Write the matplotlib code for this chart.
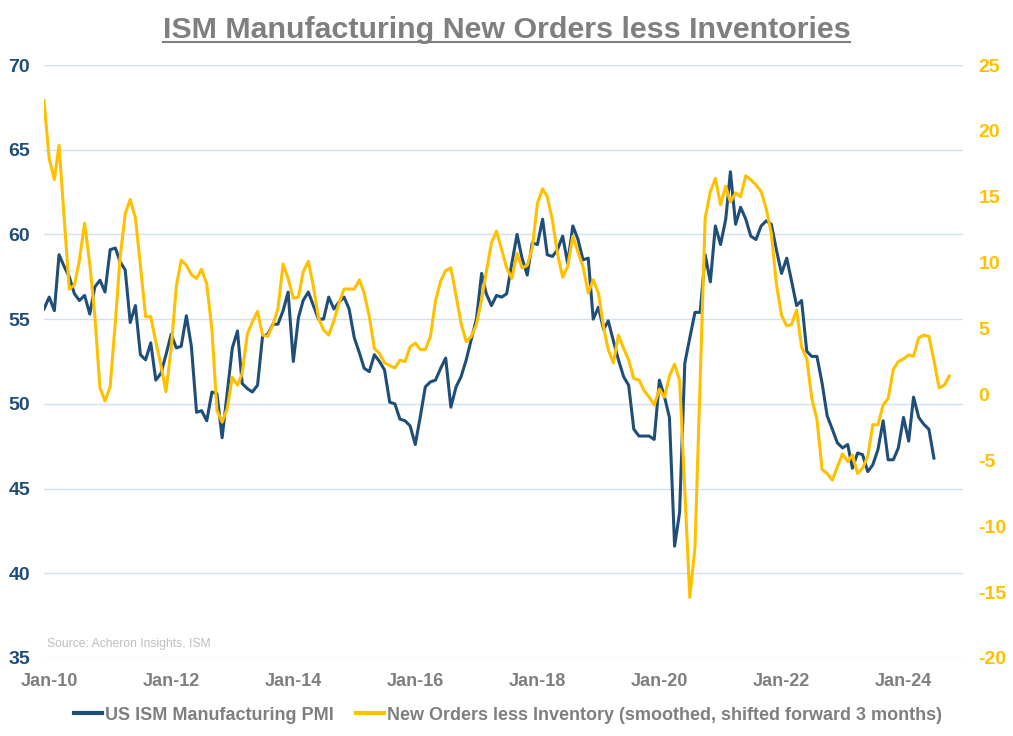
import datetime as dt
import matplotlib
matplotlib.use("Agg")
import matplotlib.pyplot as plt
from matplotlib.lines import Line2D
import pandas as pd

# ---------------- data ----------------
# US ISM Manufacturing PMI, monthly from Dec-2009
pmi = [55.6, 56.3, 55.5, 58.8, 58.1, 57.5, 56.5, 56.1, 56.4, 55.3, 56.9, 57.3,
       56.6, 59.1, 59.2, 58.4, 57.9, 54.8, 55.8, 52.9, 52.6, 53.6, 51.4, 51.8,
       52.9, 54.1, 53.3, 53.4, 55.2, 53.4, 49.5, 49.6, 49.0, 50.7, 50.6, 48.0,
       50.6, 53.3, 54.3, 51.2, 50.9, 50.7, 51.1, 54.0, 54.1, 54.7, 54.7, 55.5,
       56.6, 52.5, 55.1, 56.1, 56.6, 55.8, 55.0, 55.0, 56.3, 55.6, 56.0, 56.3,
       55.6, 53.9, 53.0, 52.1, 51.9, 52.9, 52.5, 52.0, 50.1, 50.0, 49.1, 49.0,
       48.7, 47.6, 49.3, 51.0, 51.3, 51.4, 52.1, 52.7, 49.8, 51.0, 51.6, 52.6,
       53.8, 55.0, 57.7, 56.5, 55.8, 56.4, 56.3, 56.5, 58.3, 60.0, 58.6, 57.6,
       59.5, 59.4, 60.9, 58.8, 58.7, 59.1, 59.9, 58.3, 60.5, 59.7, 58.5, 58.6,
       55.0, 55.7, 54.4, 54.9, 53.7, 52.6, 51.6, 51.1, 48.5, 48.1, 48.1, 48.1,
       47.9, 51.4, 50.4, 49.2, 41.6, 43.6, 52.4, 53.9, 55.4, 55.4, 58.8, 57.2,
       60.5, 59.4, 60.9, 63.7, 60.6, 61.6, 60.9, 59.9, 59.7, 60.5, 60.8, 60.6,
       59.1, 57.7, 58.6, 57.3, 55.8, 56.1, 53.1, 52.8, 52.8, 51.2, 49.3, 48.5,
       47.7, 47.4, 47.6, 46.2, 47.1, 47.0, 46.0, 46.4, 47.3, 49.0, 46.7, 46.7,
       47.4, 49.2, 47.8, 50.4, 49.2, 48.8, 48.5, 46.8]

# New Orders less Inventories (smoothed, shifted forward 3 months), from Dec-2009
noi = [22.3, 17.9, 16.3, 18.9, 13.4, 8.0, 8.3, 10.2, 13.0, 9.9, 6.0, 0.5,
       -0.5, 0.6, 5.5, 10.3, 13.7, 14.8, 13.4, 9.8, 5.9, 5.9, 4.0, 2.2,
       0.2, 3.5, 8.2, 10.2, 9.8, 9.1, 8.8, 9.5, 8.4, 4.9, -1.2, -2.1,
       -1.1, 1.3, 0.7, 1.6, 4.6, 5.5, 6.3, 4.5, 4.4, 5.3, 6.5, 9.9,
       8.8, 7.3, 7.4, 9.3, 10.1, 8.2, 5.8, 4.9, 4.5, 5.6, 6.9, 8.0,
       8.0, 8.0, 8.7, 7.7, 5.9, 3.5, 3.1, 2.4, 2.2, 2.0, 2.6, 2.5,
       3.6, 3.9, 3.4, 3.4, 4.4, 7.1, 8.6, 9.4, 9.6, 7.5, 5.4, 4.0,
       4.4, 5.3, 7.2, 9.3, 11.5, 12.4, 11.0, 9.6, 8.8, 10.7, 9.6, 9.8,
       11.1, 14.5, 15.6, 15.0, 13.2, 10.7, 8.9, 9.7, 12.0, 10.8, 9.7, 7.7,
       8.7, 7.7, 5.1, 3.4, 2.4, 4.5, 3.5, 2.6, 1.2, 1.1, 0.3, -0.2,
       -0.8, 0.4, -0.2, 1.4, 2.3, 1.1, -7.2, -15.4, -11.6, 1.0, 13.4, 15.4,
       16.4, 14.4, 15.8, 14.6, 15.3, 15.0, 16.6, 16.3, 15.9, 15.4, 14.1, 12.2,
       8.4, 6.0, 5.2, 5.3, 6.4, 3.6, 2.7, -0.3, -1.9, -5.7, -6.0, -6.5,
       -5.5, -4.5, -5.1, -4.6, -6.0, -5.6, -4.7, -2.3, -2.3, -0.8, -0.3, 1.9,
       2.5, 2.7, 3.0, 2.9, 4.3, 4.5, 4.4, 2.6, 0.5, 0.7, 1.4]

start_month = "2009-12-01"
tick_years = [2010, 2012, 2014, 2016, 2018, 2020, 2022, 2024]
tick_labels = ["Jan-10", "Jan-12", "Jan-14", "Jan-16", "Jan-18", "Jan-20", "Jan-22", "Jan-24"]
left_ticks = [35, 40, 45, 50, 55, 60, 65, 70]
right_ticks = [-20, -15, -10, -5, 0, 5, 10, 15, 20, 25]

title_text = "ISM Manufacturing New Orders less Inventories"
pmi_label = "US ISM Manufacturing PMI"
noi_label = "New Orders less Inventory (smoothed, shifted forward 3 months)"
source_text = "Source: Acheron Insights, ISM"

# ---------------- styling ----------------
BLUE = "#1F4E79"
GOLD = "#FFC000"
GREY = "#7F7F7F"
GRID = "#D3E0EE"
FONT = "Liberation Sans"
plt.rcParams["font.family"] = [FONT, "DejaVu Sans"]

W, H = 1013, 736
fig = plt.figure(figsize=(W / 100, H / 100), dpi=100)
fig.patch.set_facecolor("white")

L, R, T, B = 44, 963, 65, 658
ax = fig.add_axes([L / W, 1 - B / H, (R - L) / W, (B - T) / H])
ax2 = ax.twinx()

pmi_dates = pd.date_range(start_month, periods=len(pmi), freq="MS").to_pydatetime()
noi_dates = pd.date_range(start_month, periods=len(noi), freq="MS").to_pydatetime()

ax.plot(pmi_dates, pmi, color=BLUE, lw=2.2, solid_joinstyle="round", zorder=3)
ax2.plot(noi_dates, noi, color=GOLD, lw=2.2, solid_joinstyle="round", zorder=3)

ax.set_xlim(dt.datetime(2009, 12, 1), dt.datetime(2024, 12, 22))
ax.set_ylim(35, 70)
ax2.set_ylim(-20, 25)

ax.set_yticks(left_ticks)
ax.set_yticklabels([str(v) for v in left_ticks])
ax2.set_yticks(right_ticks)
ax2.set_yticklabels([str(v) for v in right_ticks])
ax.set_xticks([dt.datetime(y, 1, 1) for y in tick_years])
ax.set_xticklabels(tick_labels)

for a in (ax, ax2):
    for s in a.spines.values():
        s.set_visible(False)

ax.tick_params(axis="y", length=0, pad=10, labelcolor=BLUE, labelsize=14)
ax2.tick_params(axis="y", length=0, pad=11, labelcolor=GOLD, labelsize=14)
ax.tick_params(axis="x", length=0, pad=11, labelcolor=GREY, labelsize=13)
for lab in ax.get_yticklabels() + ax2.get_yticklabels() + ax.get_xticklabels():
    lab.set_fontweight("bold")

ax.yaxis.grid(True, color=GRID, lw=1.0)
ax.set_axisbelow(True)
ax.xaxis.grid(False)

ax.text(3 / (R - L), 11 / (B - T), source_text, transform=ax.transAxes,
        fontsize=8.7, color="#BFBFBF", ha="left", va="baseline")

# Title (bold, grey, underlined)
title = fig.text(0.5, 1 - 38 / H, title_text, ha="center", va="baseline",
                 fontsize=18, fontweight="bold", color=GREY)
fig.canvas.draw()
r = fig.canvas.get_renderer()
bb = title.get_window_extent(r)
title.set_fontsize(18 * 689 / bb.width)
fig.canvas.draw()
bb = title.get_window_extent(r)
uy = 1 - 42 / H
fig.add_artist(Line2D([bb.x0 / W, bb.x1 / W], [uy, uy], color=GREY, lw=1.5,
                      transform=fig.transFigure))

# Legend
handles = [Line2D([], [], color=BLUE, lw=3), Line2D([], [], color=GOLD, lw=3)]
leg = fig.legend(handles, [pmi_label, noi_label], loc="center",
                 bbox_to_anchor=(508 / W, 1 - 715 / H), ncol=2, frameon=False,
                 handlelength=1.55, handletextpad=0.2, columnspacing=1.2,
                 prop={"family": FONT, "weight": "bold", "size": 13})
for t in leg.get_texts():
    t.set_color(GREY)

fig.savefig("out.png", dpi=100)
